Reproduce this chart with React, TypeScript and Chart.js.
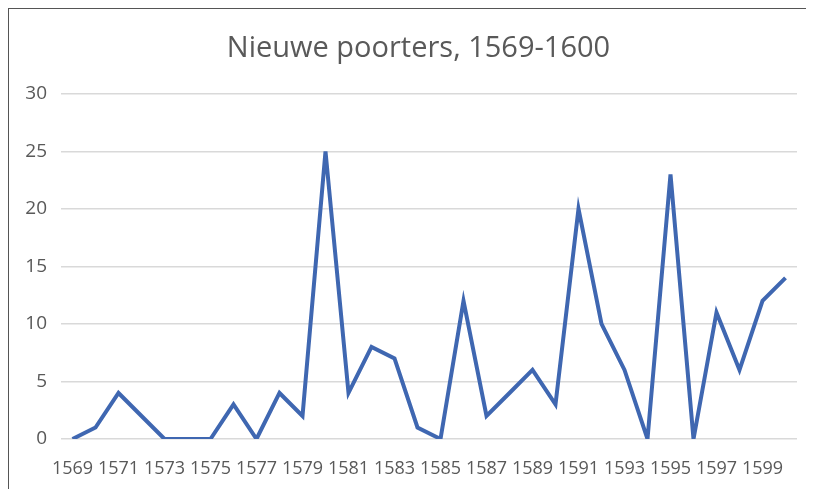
import React, { useEffect, useRef } from "react";
import { Chart, registerables } from "chart.js";

Chart.register(...registerables);

const years: string[] = [
  "1569", "1570", "1571", "1572", "1573", "1574", "1575", "1576", "1577", "1578",
  "1579", "1580", "1581", "1582", "1583", "1584", "1585", "1586", "1587", "1588",
  "1589", "1590", "1591", "1592", "1593", "1594", "1595", "1596", "1597", "1598",
  "1599", "1600",
];

const newCitizens: number[] = [
  0, 1, 4, 2, 0, 0, 0, 3, 0, 4,
  2, 25, 4, 8, 7, 1, 0, 12, 2, 4,
  6, 3, 20, 10, 6, 0, 23, 0, 11, 6,
  12, 14,
];

const chartTitle = "Nieuwe poorters, 1569-1600";
const yMax = 30;
const yStep = 5;

const FONT = "'Open Sans', 'Noto Sans', sans-serif";

const shiftTitle = {
  id: "shiftTitle",
  afterLayout(chart: any) {
    const t = chart.titleBlock;
    if (t) t.left = 32;
  },
};

export default function App() {
  const ref = useRef<HTMLCanvasElement | null>(null);

  useEffect(() => {
    if (!ref.current) return;
    const chart = new Chart(ref.current, {
      type: "line",
      data: {
        labels: years,
        datasets: [
          {
            data: newCitizens,
            borderColor: "#3f67b1",
            borderWidth: 4,
            pointRadius: 0,
            tension: 0,
            fill: false,
          },
        ],
      },
      plugins: [shiftTitle],
      options: {
        animation: false,
        responsive: false,
        maintainAspectRatio: false,
        layout: { padding: { left: 0, right: 17, top: 0, bottom: 0 } },
        plugins: {
          legend: { display: false },
          tooltip: { enabled: false },
          title: {
            display: true,
            text: chartTitle,
            color: "#595959",
            font: { family: FONT, size: 29, weight: "normal" },
            padding: { top: 23, bottom: 28 },
          },
        },
        scales: {
          x: {
            offset: true,
            grid: { display: false, drawTicks: false },
            border: { display: false },
            ticks: {
              color: "#595959",
              font: { family: FONT, size: 18 },
              padding: 19,
              maxRotation: 0,
              autoSkip: false,
              callback: function (_v: any, i: number) {
                return i % 2 === 0 ? years[i] : "";
              },
            },
            afterFit: (s: any) => {
              s.height = 50;
            },
          },
          y: {
            min: 0,
            max: yMax,
            grid: { color: "#d9d9d9", lineWidth: 1.5, drawTicks: false },
            border: { display: false },
            ticks: {
              stepSize: yStep,
              color: "#595959",
              font: { family: FONT, size: 19 },
              padding: 14,
            },
            afterFit: (s: any) => {
              s.width = 53;
            },
          },
        },
      },
    });
    return () => chart.destroy();
  }, []);

  return (
    <div style={{ position: "relative", width: 806, height: 481 }}>
      <canvas ref={ref} width={806} height={481} style={{ display: "block" }} />
      <div
        style={{
          position: "absolute",
          left: -1,
          top: -1,
          width: 808,
          height: 483,
          borderTop: "2px solid #555",
          borderLeft: "2px solid #555",
          pointerEvents: "none",
        }}
      />
    </div>
  );
}
